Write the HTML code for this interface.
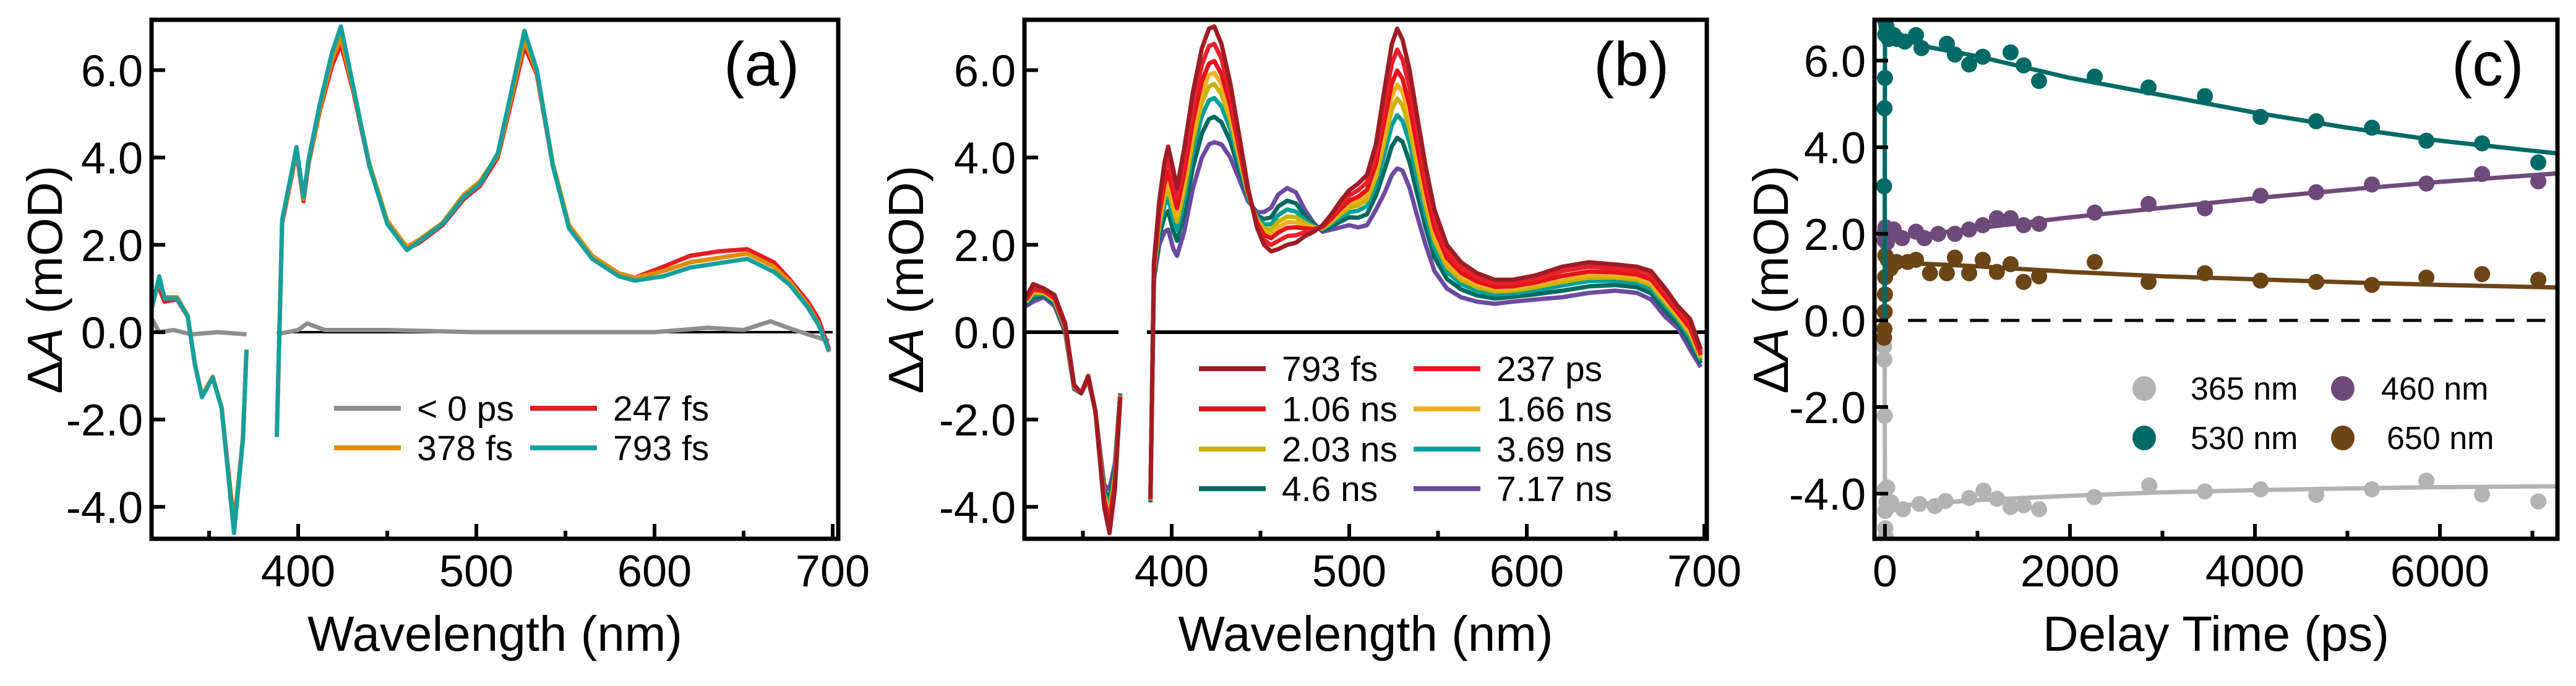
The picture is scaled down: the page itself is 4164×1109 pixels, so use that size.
<!DOCTYPE html>
<html><head><meta charset="utf-8"><title>Transient absorption spectra</title>
<style>
html,body{margin:0;padding:0;background:#fff;}
svg{display:block;font-family:"Liberation Sans",Arial,sans-serif;}
</style></head>
<body>
<svg id="fig" xmlns="http://www.w3.org/2000/svg" width="4164" height="1109" viewBox="0 0 4164 1109"></svg>
<script>
// ---------- Panel (a) data ----------
const aWl = [318,322,325,332,338,342,346,352,357,364,369,371,380,388,391,397,399,403,406,412,419,424,431,440,450,461,468,481,493,502,512,518,527,534,543,552,565,580,589,605,620,636,652,667,676,686,692,698];
const aTeal = [0.57,1.28,0.77,0.77,0.37,-0.73,-1.49,-1.04,-1.74,-4.6,-2.44,-0.4,null,-2.4,2.58,3.8,4.24,3.09,3.99,5.2,6.4,7.0,5.6,3.8,2.48,1.88,2.08,2.48,3.09,3.39,4.09,5.2,6.9,6.0,3.8,2.38,1.68,1.28,1.18,1.28,1.48,1.58,1.68,1.38,1.08,0.57,0.17,-0.43];
const aOrange = [0.6,1.2,0.8,0.8,0.38,-0.72,-1.45,-1.02,-1.72,-4.5,-2.4,-0.4,null,-2.4,2.55,3.75,4.2,3.05,3.95,5.1,6.25,6.75,5.55,3.85,2.55,1.95,2.12,2.5,3.15,3.45,4.05,5.1,6.7,5.95,3.85,2.45,1.75,1.35,1.25,1.4,1.6,1.7,1.8,1.5,1.15,0.62,0.2,-0.45];
const aRed = [0.9,1.0,0.7,0.75,0.36,-0.74,-1.47,-1.03,-1.73,-4.4,-2.45,-0.4,null,-2.4,2.5,3.7,4.15,3.0,3.9,5.05,6.1,6.6,5.5,3.8,2.5,1.9,2.05,2.45,3.05,3.35,4.0,5.0,6.55,5.9,3.8,2.4,1.72,1.32,1.25,1.5,1.75,1.85,1.9,1.6,1.2,0.7,0.3,-0.4];
const aGreyWl = [318,322,330,340,355,371,380,388,400,405,415,450,500,550,600,630,650,665,675,690,698];
const aGrey = [0.3,0.0,0.05,-0.05,0.0,-0.05,null,-0.05,0.05,0.2,0.05,0.05,0.0,0.0,0.0,0.1,0.05,0.25,0.1,-0.1,-0.2];
const aLegend = ["< 0 ps","247 fs","378 fs","793 fs"];
const xTicksSpec = [400,500,600,700];
const yTicks = [6,4,2,0,-2,-4];

// ---------- Panel (b) data ----------
const bWl = [318,322,328,334,340,345,349,353,357,362,365,368,371,380,388,390,393,396,398,401,403,407,412,417,421,424,428,433,438,443,448,452,456,460,465,470,475,480,485,490,495,500,505,510,515,520,524,527,530,534,538,543,548,555,563,572,582,592,605,620,635,650,662,670,678,685,692,698];
const b793fs = [0.8,1.1,1,0.85,0.2,-1.2,-1.4,-1,-1.8,-4,-4.6,-3.6,-1.5,null,-3.8,1.6,3,3.9,4.25,3.7,3.3,4.2,5.5,6.5,6.95,7,6.6,5.7,4.5,3.3,2.4,2,1.85,1.9,2,2.05,2.2,2.3,2.45,2.7,3,3.25,3.4,3.6,4.3,5.6,6.6,6.95,6.7,6,5,3.8,2.8,2,1.6,1.35,1.2,1.2,1.3,1.5,1.6,1.55,1.5,1.4,1,0.6,0.3,-0.4];
const b237ps = [0.77,1.04,0.97,0.81,0.17,-1.22,-1.4,-1.02,-1.8,-3.93,-4.45,-3.51,-1.49,null,-3.82,1.54,2.85,3.66,3.97,3.43,3.07,3.92,5.17,6.13,6.55,6.6,6.26,5.45,4.35,3.26,2.45,2.11,2,2.09,2.2,2.22,2.29,2.33,2.43,2.65,2.91,3.13,3.25,3.43,4.08,5.24,6.15,6.47,6.25,5.6,4.66,3.53,2.59,1.85,1.48,1.25,1.12,1.13,1.22,1.4,1.5,1.46,1.41,1.3,0.9,0.53,0.2,-0.46];
const b106ns = [0.74,0.98,0.94,0.78,0.14,-1.23,-1.4,-1.03,-1.8,-3.85,-4.3,-3.42,-1.47,null,-3.83,1.48,2.7,3.42,3.68,3.16,2.84,3.63,4.84,5.75,6.15,6.21,5.91,5.19,4.2,3.21,2.51,2.23,2.15,2.28,2.39,2.4,2.38,2.36,2.41,2.6,2.82,3.01,3.1,3.26,3.85,4.88,5.7,5.99,5.8,5.19,4.31,3.26,2.38,1.7,1.36,1.16,1.04,1.05,1.14,1.29,1.39,1.37,1.32,1.21,0.81,0.45,0.09,-0.52];
const b166ns = [0.72,0.94,0.92,0.75,0.12,-1.24,-1.4,-1.04,-1.8,-3.8,-4.2,-3.36,-1.46,null,-3.84,1.44,2.6,3.26,3.49,2.98,2.68,3.44,4.62,5.5,5.89,5.94,5.68,5.02,4.1,3.18,2.54,2.3,2.25,2.4,2.52,2.51,2.44,2.38,2.39,2.56,2.76,2.93,3,3.14,3.7,4.64,5.4,5.67,5.5,4.92,4.08,3.08,2.24,1.6,1.28,1.09,0.98,1,1.08,1.22,1.32,1.31,1.26,1.14,0.74,0.4,0.02,-0.56];
const b203ns = [0.7,0.9,0.9,0.73,0.1,-1.25,-1.4,-1.05,-1.8,-3.75,-4.1,-3.3,-1.45,null,-3.85,1.4,2.5,3.1,3.3,2.8,2.53,3.25,4.4,5.25,5.63,5.68,5.45,4.85,4,3.15,2.58,2.38,2.35,2.53,2.65,2.63,2.5,2.4,2.38,2.53,2.7,2.85,2.9,3.03,3.55,4.4,5.1,5.35,5.2,4.65,3.85,2.9,2.1,1.5,1.2,1.03,0.93,0.95,1.03,1.15,1.25,1.25,1.2,1.08,0.68,0.35,-0.05,-0.6];
const b369ns = [0.68,0.85,0.88,0.7,0.08,-1.26,-1.4,-1.06,-1.8,-3.69,-3.98,-3.23,-1.44,null,-3.86,1.35,2.38,2.91,3.07,2.58,2.34,3.02,4.14,4.95,5.31,5.36,5.17,4.65,3.88,3.11,2.62,2.47,2.47,2.68,2.81,2.76,2.57,2.42,2.36,2.48,2.63,2.75,2.78,2.89,3.37,4.11,4.74,4.97,4.84,4.33,3.57,2.68,1.93,1.38,1.1,0.95,0.86,0.89,0.96,1.07,1.17,1.18,1.13,1,0.6,0.29,-0.13,-0.65];
const b46ns = [0.64,0.79,0.84,0.66,0.04,-1.28,-1.4,-1.08,-1.8,-3.61,-3.82,-3.13,-1.42,null,-3.88,1.29,2.22,2.65,2.77,2.3,2.09,2.72,3.78,4.55,4.88,4.93,4.81,4.37,3.72,3.07,2.67,2.59,2.63,2.88,3.01,2.95,2.67,2.46,2.33,2.43,2.53,2.63,2.62,2.7,3.13,3.73,4.26,4.45,4.36,3.89,3.21,2.4,1.71,1.22,0.98,0.84,0.77,0.81,0.87,0.95,1.05,1.08,1.03,0.89,0.49,0.21,-0.25,-0.71];
const b717ns = [0.6,0.7,0.8,0.6,0,-1.3,-1.4,-1.1,-1.8,-3.5,-3.6,-3,-1.4,null,-3.9,1.2,2,2.3,2.35,1.9,1.75,2.3,3.3,4,4.3,4.35,4.3,4,3.5,3,2.75,2.75,2.85,3.15,3.3,3.2,2.8,2.5,2.3,2.35,2.4,2.45,2.4,2.45,2.8,3.2,3.6,3.75,3.7,3.3,2.7,2,1.4,1,0.8,0.7,0.65,0.7,0.75,0.8,0.9,0.95,0.9,0.75,0.35,0.1,-0.4,-0.8];
const bLabels = ["793 fs","237 ps","1.06 ns","1.66 ns","2.03 ns","3.69 ns","4.6 ns","7.17 ns"];

// ---------- Panel (c) data ----------
const t530 = [-10,-5,0,3,6,10,16,25,40,60,94,130,214,335,395,669,756,910,1057,1358,1499,1666,2268,2850,3459,4061,4663,5265,5854,6456,7064];
const v530 = [3.1,4.9,5.6,6.6,6.9,7.0,6.79,6.6,6.5,6.6,6.59,6.5,6.44,6.59,6.29,6.39,6.14,5.91,6.09,6.19,5.89,5.53,5.63,5.38,5.18,4.70,4.60,4.45,4.15,4.09,3.65];
const t460 = [-5,0,4,20,94,185,335,426,576,756,910,1057,1210,1358,1499,1666,2268,2850,3459,4061,4663,5265,5854,6456,7064];
const v460 = [1.85,2.05,2.15,1.8,2.10,1.90,2.05,1.90,2.0,2.0,2.10,2.2,2.36,2.36,2.2,2.23,2.49,2.69,2.59,2.88,2.96,3.14,3.16,3.38,3.21];
const t650 = [-10,-6,-3,0,2,4,8,16,30,60,125,245,335,486,669,756,910,1057,1210,1358,1499,1666,2268,2850,3459,4061,4663,5265,5854,6456,7064];
const v650 = [-0.4,-0.2,0.2,0.6,1.0,1.5,1.9,1.8,1.4,1.2,1.35,1.35,1.40,1.09,1.09,1.45,1.09,1.40,1.12,1.30,0.89,1.02,1.35,0.89,1.09,0.92,0.89,0.82,0.99,1.07,0.94];
const t365 = [-10,-6,-3,0,2,4,8,15,25,40,65,194,373,540,655,911,1065,1212,1358,1499,1666,2263,2857,3459,4061,4663,5265,5854,6456,7064];
const v365 = [-0.6,-0.9,-2.2,-3.9,-4.4,-4.8,-5.0,-4.2,-3.86,-4.3,-4.2,-4.36,-4.24,-4.29,-4.17,-4.10,-3.93,-4.12,-4.31,-4.27,-4.36,-4.08,-3.81,-3.95,-3.90,-4.03,-3.90,-3.70,-4.02,-4.18];
const fitT = [0,500,1000,2000,3000,4000,5000,6000,7300];
const fit530 = [6.6,6.3,6.1,5.6,5.2,4.8,4.45,4.15,3.85];
const fit460 = [1.9,2.0,2.13,2.38,2.6,2.82,3.02,3.2,3.4];
const fit650 = [1.35,1.3,1.25,1.12,1.02,0.95,0.88,0.82,0.76];
const fit365 = [-4.3,-4.22,-4.15,-4.05,-3.97,-3.92,-3.88,-3.85,-3.83];
const cLegend = ["365 nm","460 nm","530 nm","650 nm"];
const cXTicks = [0,2000,4000,6000];

// ---------- drawing ----------
const NS = "http://www.w3.org/2000/svg";
const svg = document.getElementById("fig");
function mk(tag, attrs, parent) {
  const e = document.createElementNS(NS, tag);
  for (const k in attrs) e.setAttribute(k, attrs[k]);
  (parent || svg).appendChild(e);
  return e;
}
const TOP = 32, BOT = 871;

function panel(id, L, R, x0v, x0p, xppu, y0p, yppu) {
  const g = mk("g", {});
  
  
  const cp = mk("clipPath", {id: "clip-" + id}, g);
  mk("rect", {x: L, y: TOP, width: R - L, height: BOT - TOP}, cp);
  const data = mk("g", {"clip-path": "url(#clip-" + id + ")"}, g);
  
  
  return {g, data, L, R, sx: v => x0p + (v - x0v) * xppu, sy: v => y0p - v * yppu};
}
function linePath(P, xs, ys) {
  let d = "", pen = false;
  for (let i = 0; i < xs.length; i++) {
    if (ys[i] === null || ys[i] === undefined) { pen = false; continue; }
    d += (pen ? "L" : "M") + P.sx(xs[i]).toFixed(1) + "," + P.sy(ys[i]).toFixed(1);
    pen = true;
  }
  return d;
}
function frame(P, xt, xtMinor, xLabel, yLabelX) {
  for (const v of yTicks) {
    const y = P.sy(v);
    const tk = mk("line", {x1: P.L, x2: P.L + 22, y1: y, y2: y, stroke: "#000", "stroke-width": 6}, P.g);
    
    
    const tl = mk("text", {x: P.L - 14, y: y + 26, "text-anchor": "end", "font-size": 72}, P.g);
    
    
    tl.textContent = v.toFixed(1);
  }
  for (const v of xtMinor) {
    const x = P.sx(v);
    const tk = mk("line", {x1: x, x2: x, y1: BOT, y2: BOT - 13, stroke: "#000", "stroke-width": 6}, P.g);
    
    
  }
  for (const v of xt) {
    const x = P.sx(v);
    const tk = mk("line", {x1: x, x2: x, y1: BOT, y2: BOT - 24, stroke: "#000", "stroke-width": 6}, P.g);
    
    
    const tl = mk("text", {x: x, y: 948, "text-anchor": "middle", "font-size": 72}, P.g);
    
    
    tl.textContent = String(v);
  }
  const fr = mk("rect", {x: P.L, y: TOP, width: P.R - P.L, height: BOT - TOP, fill: "none", stroke: "#000", "stroke-width": 7}, P.g);
  
  
  const xt2 = mk("text", {x: (P.L + P.R) / 2, y: 1052, "text-anchor": "middle", "font-size": 80}, P.g);
  
  
  xt2.textContent = xLabel;
  const yt = mk("text", {transform: "translate(" + yLabelX + ",452) rotate(-90)", "text-anchor": "middle", "font-size": 80}, P.g);
  
  
  yt.innerHTML = 'Δ<tspan font-style="italic">A</tspan> (mOD)';
}
function panelLabel(P, txt, x) {
  const t = mk("text", {x: x, y: 138, "font-size": 100}, P.g);
  
  
  t.textContent = txt;
}
function legendLine(P, x, y, color, label) {
  const g = mk("g", {}, P.g);
  
  
  mk("line", {x1: x, x2: x + 108, y1: y, y2: y, stroke: color, "stroke-width": 8}, g);
  const t = mk("text", {x: x + 134, y: y + 20, "font-size": 57}, g);
  t.textContent = label;
}
const minorW = [350,450,550,650];

// Panel A
const A = panel("a", 245, 1355, 400, 482, 2.88, 537, 70.6);
{
  const z = mk("line", {x1: A.sx(388), x2: A.sx(700), y1: A.sy(0), y2: A.sy(0), stroke: "#000", "stroke-width": 4}, A.data);
  
  
  const series = [[aGreyWl, aGrey, "#8e8e8e", "series-lt0ps"], [aWl, aRed, "#e31e24", "series-247fs"], [aWl, aOrange, "#e08c00", "series-378fs"], [aWl, aTeal, "#17a09b", "series-793fs"]];
  for (const s of series) {
    const p = mk("path", {d: linePath(A, s[0], s[1]), fill: "none", stroke: s[2], "stroke-width": 7, "stroke-linejoin": "round"}, A.data);
    
    
  }
  frame(A, xTicksSpec, minorW, "Wavelength (nm)", 100);
  panelLabel(A, "(a)", 1170);
  legendLine(A, 540, 660, "#8e8e8e", aLegend[0]);
  legendLine(A, 857, 660, "#e31e24", aLegend[1]);
  legendLine(A, 540, 724, "#e08c00", aLegend[2]);
  legendLine(A, 857, 724, "#17a09b", aLegend[3]);
}

// Panel B
const B = panel("b", 1656, 2759, 400, 1894, 2.87, 537, 70.6);
{
  const z1 = mk("line", {x1: B.L, x2: B.sx(370), y1: B.sy(0), y2: B.sy(0), stroke: "#000", "stroke-width": 6}, B.data);
  
  
  const z2 = mk("line", {x1: B.sx(386), x2: B.R, y1: B.sy(0), y2: B.sy(0), stroke: "#000", "stroke-width": 6}, B.data);
  
  
  const bSeries = [b717ns, b46ns, b369ns, b203ns, b166ns, b106ns, b237ps, b793fs];
  const bColors = ["#6b4aa0", "#006a60", "#00a09a", "#c8b400", "#f0b020", "#e3131c", "#e8202a", "#a01c24"];
  const bNames = ["series-7-17ns", "series-4-6ns", "series-3-69ns", "series-2-03ns", "series-1-66ns", "series-1-06ns", "series-237ps", "series-793fs"];
  for (let i = 0; i < bSeries.length; i++) {
    const p = mk("path", {d: linePath(B, bWl, bSeries[i]), fill: "none", stroke: bColors[i], "stroke-width": 7, "stroke-linejoin": "round"}, B.data);
    
    
  }
  frame(B, xTicksSpec, minorW, "Wavelength (nm)", 1492);
  panelLabel(B, "(b)", 2576);
  const legCol = ["#a01c24", "#e31a22", "#e3131c", "#f0b020", "#c8b400", "#00a09a", "#006a60", "#6b4aa0"];
  const rowsY = [596, 661, 726, 790];
  for (let i = 0; i < 8; i++) {
    legendLine(B, i % 2 === 0 ? 1938 : 2285, rowsY[Math.floor(i / 2)], legCol[i], bLabels[i]);
  }
}

// Panel C
const C = panel("c", 3030, 4134, 0, 3047, 0.1495, 518, 70);
{
  const dz = mk("line", {x1: C.sx(250), x2: C.R, y1: C.sy(0), y2: C.sy(0), stroke: "#000", "stroke-width": 5, "stroke-dasharray": "30,20"}, C.data);
  
  
  const cs = [
    [t365, v365, fit365, "#b3b3b3", "365nm"],
    [t650, v650, fit650, "#6b4516", "650nm"],
    [t460, v460, fit460, "#6e4a7a", "460nm"],
    [t530, v530, fit530, "#006a66", "530nm"]
  ];
  for (const s of cs) {
    const fx = [-5].concat(fitT), fy = [0].concat(s[2]);
    const fl = mk("path", {d: linePath(C, fx, fy), fill: "none", stroke: s[3], "stroke-width": 7}, C.data);
    
    
    for (let i = 0; i < s[0].length; i++) {
      const c = mk("circle", {cx: C.sx(s[0][i]), cy: C.sy(s[1][i]), r: 13, fill: s[3]}, C.data);
      
      
    }
  }
  frame(C, cXTicks, [1000,3000,5000,7000], "Delay Time (ps)", 2890);
  panelLabel(C, "(c)", 3963);
  const lg = [[3466, 628, "#b3b3b3", cLegend[0], 3541], [3787, 628, "#6e4a7a", cLegend[1], 3849], [3466, 708, "#006a66", cLegend[2], 3541], [3787, 708, "#6b4516", cLegend[3], 3858]];
  for (const e of lg) {
    const g = mk("g", {}, C.g);
    
    
    mk("ellipse", {cx: e[0], cy: e[1], rx: 19, ry: 20, fill: e[2]}, g);
    const t = mk("text", {x: e[4], y: e[1] + 18, "font-size": 52}, g);
    t.textContent = e[3];
  }
}
</script>
</body></html>
